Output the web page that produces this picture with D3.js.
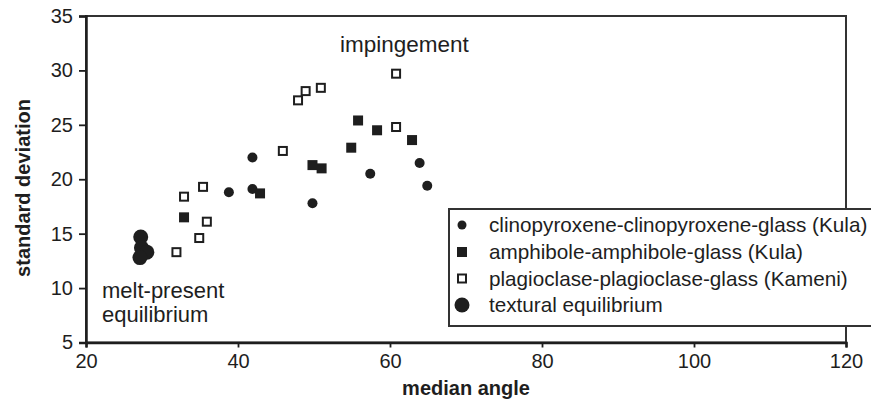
<!DOCTYPE html>
<html><head><meta charset="utf-8">
<script src="https://cdn.jsdelivr.net/npm/d3@7"></script>
<style>
html,body{margin:0;padding:0;background:#fff;}
svg{display:block;font-family:"Liberation Sans",Arial,Helvetica,sans-serif;}
</style></head>
<body><svg id="c" width="871" height="401"></svg>
<script>
// Data
const cpxX = [41.9, 38.8, 41.9, 49.8, 57.4, 63.9, 64.9];
const cpxY = [22.0, 18.8, 19.1, 17.8, 20.5, 21.5, 19.4];
const amphX = [42.9, 32.9, 55.8, 58.3, 62.9, 54.9, 49.8, 51.0];
const amphY = [18.7, 16.5, 25.4, 24.5, 23.6, 22.9, 21.3, 21.0];
const plagX = [60.8, 47.9, 48.9, 50.9, 45.9, 60.8, 35.4, 32.9, 35.9, 34.9, 31.9];
const plagY = [29.7, 27.25, 28.1, 28.4, 22.6, 24.8, 19.3, 18.4, 16.1, 14.6, 13.3];
const eqX = [27.2, 27.3, 28.0, 27.1];
const eqY = [14.7, 13.7, 13.3, 12.8];
const xTicks = [20, 40, 60, 80, 100, 120];
const yTicks = [5, 10, 15, 20, 25, 30, 35];
const seriesNames = [
  "clinopyroxene-clinopyroxene-glass (Kula)",
  "amphibole-amphibole-glass (Kula)",
  "plagioclase-plagioclase-glass (Kameni)",
  "textural equilibrium"
];

const ink = "#1e1e1e";
const svg = d3.select("#c");
const L = 86, R = 846, T = 16, B = 342.5;
const x = d3.scaleLinear().domain([20, 120]).range([L, R]);
const y = d3.scaleLinear().domain([5, 35]).range([B, T]);

// frame (top/right)
svg.append("rect").attr("x", L).attr("y", T).attr("width", R - L).attr("height", B - T)
  .attr("fill", "none").attr("stroke", "#333").attr("stroke-width", 2);

const xAxis = svg.append("g").attr("transform", `translate(0,${B})`)
  .call(d3.axisBottom(x).tickValues(xTicks).tickSize(5).tickPadding(3).tickFormat(d3.format("d")));
const yAxis = svg.append("g").attr("transform", `translate(${L},0)`)
  .call(d3.axisLeft(y).tickValues(yTicks).tickSize(7).tickPadding(6).tickFormat(d3.format("d")));
[xAxis, yAxis].forEach(g => {
  g.select(".domain").attr("stroke", ink).attr("stroke-width", 2.5);
  g.selectAll(".tick line").attr("stroke", ink).attr("stroke-width", 1.8);
  g.selectAll(".tick text").attr("fill", ink).style("font-size", "20px")
   .style("font-family", "'Liberation Sans',Arial,sans-serif");
});
xAxis.selectAll(".tick text").attr("dy", "0.85em");

// axis titles
svg.append("text").attr("x", 466).attr("y", 395).attr("text-anchor", "middle")
  .attr("font-weight", "bold").attr("font-size", 20).attr("fill", ink).text("median angle");
svg.append("text").attr("transform", "translate(30,188) rotate(-90)").attr("text-anchor", "middle")
  .attr("font-weight", "bold").attr("font-size", 20).attr("fill", ink).text("standard deviation");

// annotations
svg.append("text").attr("x", 340).attr("y", 52).attr("font-size", 22.5).attr("fill", ink).text("impingement");
svg.append("text").attr("x", 102).attr("y", 298).attr("font-size", 22).attr("fill", ink).text("melt-present");
svg.append("text").attr("x", 102).attr("y", 322).attr("font-size", 22).attr("fill", ink).text("equilibrium");

// marks
const pts = (xs, ys) => xs.map((v, i) => ({x: v, y: ys[i]}));
svg.append("g").selectAll("circle").data(pts(eqX, eqY)).join("circle")
  .attr("cx", d => x(d.x)).attr("cy", d => y(d.y)).attr("r", 7.5).attr("fill", ink);
svg.append("g").selectAll("circle").data(pts(cpxX, cpxY)).join("circle")
  .attr("cx", d => x(d.x)).attr("cy", d => y(d.y)).attr("r", 5).attr("fill", ink);
svg.append("g").selectAll("rect").data(pts(amphX, amphY)).join("rect")
  .attr("x", d => x(d.x) - 5).attr("y", d => y(d.y) - 5).attr("width", 10).attr("height", 10).attr("fill", ink);
svg.append("g").selectAll("rect").data(pts(plagX, plagY)).join("rect")
  .attr("x", d => x(d.x) - 4).attr("y", d => y(d.y) - 4).attr("width", 8).attr("height", 8)
  .attr("fill", "#fff").attr("stroke", ink).attr("stroke-width", 2);

// legend
const lg = svg.append("g");
lg.append("rect").attr("x", 449).attr("y", 209).attr("width", 440).attr("height", 117)
  .attr("fill", "#fff").attr("stroke", "#333").attr("stroke-width", 2);
const rowY = [225, 252, 278.5, 305];
seriesNames.forEach((name, i) => {
  const cy = rowY[i], cx = 462;
  if (i === 0) lg.append("circle").attr("cx", cx).attr("cy", cy).attr("r", 4.5).attr("fill", ink);
  if (i === 1) lg.append("rect").attr("x", cx - 5).attr("y", cy - 5).attr("width", 10).attr("height", 10).attr("fill", ink);
  if (i === 2) lg.append("rect").attr("x", cx - 4).attr("y", cy - 4).attr("width", 8).attr("height", 8)
    .attr("fill", "#fff").attr("stroke", ink).attr("stroke-width", 2);
  if (i === 3) lg.append("circle").attr("cx", cx).attr("cy", cy).attr("r", 7.5).attr("fill", ink);
  lg.append("text").attr("x", 489).attr("y", cy).attr("dy", "0.35em").attr("font-size", 20.7)
    .attr("fill", ink).text(name);
});
</script></body></html>
